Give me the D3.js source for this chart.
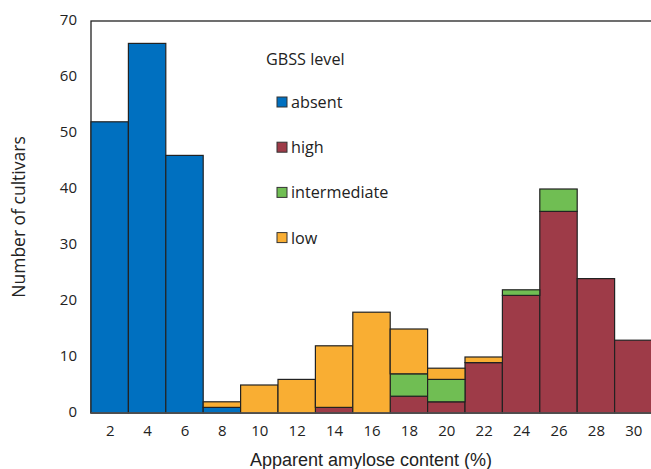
<!DOCTYPE html>
<html><head><meta charset="utf-8">
<script src="https://cdn.jsdelivr.net/npm/d3@7"></script>
<style>body{margin:0;background:#fff}svg{display:block}</style>
</head><body>
<script>
const bins = [2,4,6,8,10,12,14,16,18,20,22,24,26,28,30];
const absent =       [52,66,46,1,0,0,0,0,0,0,0,0,0,0,0];
const high =         [0,0,0,0,0,0,1,0,3,2,9,21,36,24,13];
const intermediate = [0,0,0,0,0,0,0,0,4,4,0,1,4,0,0];
const low =          [0,0,0,1,5,6,11,18,8,2,1,0,0,0,0];
const seriesNames = ["absent","high","intermediate","low"];
const seriesColors = ["#0070C0","#9E3B48","#70BE53","#F9AE33"];
const yTicks = [0,10,20,30,40,50,60,70];

const W=651,H=469;
const m={left:91,top:21,right:652,bottom:413};
const svg=d3.select("body").append("svg").attr("width",W).attr("height",H);
const font="'Open Sans', 'Noto Sans', sans-serif";
const x=d3.scaleLinear().domain([1,31]).range([m.left,m.right]);
const y=d3.scaleLinear().domain([0,70]).range([m.bottom,m.top]);

const table=bins.map((b,i)=>({bin:b,absent:absent[i],high:high[i],intermediate:intermediate[i],low:low[i]}));
const stack=d3.stack().keys(seriesNames)(table);

// frame
svg.append("rect").attr("x",m.left).attr("y",m.top).attr("width",m.right-m.left).attr("height",m.bottom-m.top)
  .attr("fill","none").attr("stroke","#222").attr("stroke-width",1.3);

stack.forEach((s,si)=>{
  svg.append("g").selectAll("rect").data(s.filter(d=>d[1]>d[0])).join("rect")
    .attr("x",d=>x(d.data.bin-1)).attr("width",d=>x(d.data.bin+1)-x(d.data.bin-1))
    .attr("y",d=>y(d[1])).attr("height",d=>y(d[0])-y(d[1]))
    .attr("fill",seriesColors[si]).attr("stroke","#222").attr("stroke-width",1.2);
});

// bottom axis line
svg.append("line").attr("x1",m.left).attr("x2",m.right).attr("y1",m.bottom).attr("y2",m.bottom).attr("stroke","#555").attr("stroke-width",1.5);

const xa=d3.axisBottom(x).tickValues(bins).tickSize(0).tickPadding(12);
svg.append("g").attr("transform",`translate(0,${m.bottom})`).call(xa)
  .call(g=>g.select(".domain").remove())
  .selectAll("text").attr("font-family",font).attr("font-size",15).attr("fill","#222");
const ya=d3.axisLeft(y).tickValues(yTicks).tickSize(0).tickPadding(14);
svg.append("g").attr("transform",`translate(${m.left},0)`).call(ya)
  .call(g=>g.select(".domain").remove())
  .selectAll("text").attr("font-family",font).attr("font-size",15).attr("fill","#222").attr("dy","0.2em");

svg.append("text").attr("x",371).attr("y",466).attr("text-anchor","middle")
  .attr("font-family","'Liberation Sans', Arial, sans-serif").attr("font-size",18).attr("fill","#222").text("Apparent amylose content (%)");
svg.append("text").attr("transform","translate(25,217) rotate(-90)").attr("text-anchor","middle")
  .attr("font-family",font).attr("font-size",17.5).attr("fill","#222").text("Number of cultivars");

// legend
const lg=svg.append("g");
lg.append("text").attr("x",266).attr("y",64.5).attr("font-family",font).attr("font-size",16.2).attr("fill","#222").text("GBSS level");
seriesNames.forEach((n,i)=>{
  const cy=102+i*45.2;
  lg.append("rect").attr("x",277).attr("y",cy-5).attr("width",10).attr("height",10)
    .attr("fill",seriesColors[i]).attr("stroke","#333").attr("stroke-width",1);
  lg.append("text").attr("x",291).attr("y",cy+6).attr("font-family",font).attr("font-size",16.2).attr("fill","#222").text(n);
});
</script>
</body></html>
